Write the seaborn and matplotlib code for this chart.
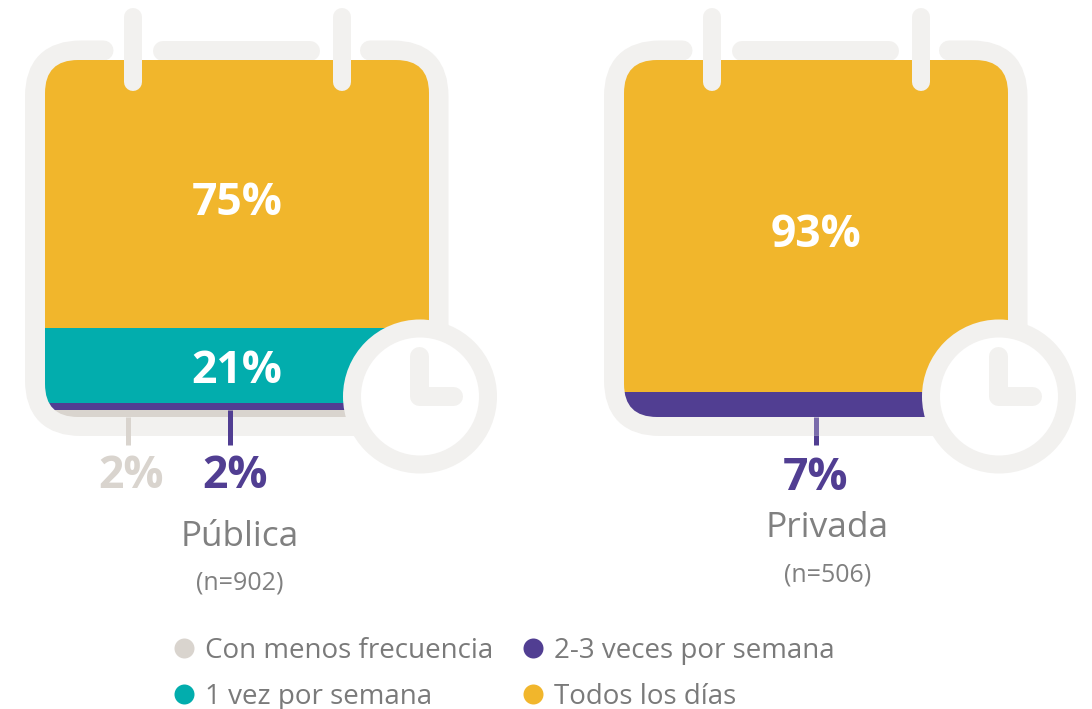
import matplotlib
matplotlib.use('Agg')
import matplotlib.pyplot as plt
import pandas as pd
import seaborn as sns
from matplotlib.lines import Line2D
from matplotlib.patches import Circle, FancyBboxPatch, PathPatch
from matplotlib.path import Path

# === DATA ===
categories = ['Todos los días', '1 vez por semana', '2-3 veces por semana', 'Con menos frecuencia']
publica = [75, 21, 2, 2]
privada = [93, 0, 7, 0]
n_publica = 902
n_privada = 506

colors = {
    'Todos los días': '#f1b62c',
    '1 vez por semana': '#02adad',
    '2-3 veces por semana': '#513e92',
    'Con menos frecuencia': '#d9d4ce',
}
frame_color = '#f2f1ef'
grey_text = '#808080'

W, H = 1092, 709
PX = 0.72  # one pixel in points at dpi 100

sns.set_theme(style='white')
plt.rcParams['font.family'] = ['Open Sans', 'DejaVu Sans']

fig = plt.figure(figsize=(W / 100, H / 100), dpi=100)

# pixel axes: one below the bars for the frame, one above for tabs and clock
ax_bg = fig.add_axes([0, 0, 1, 1], zorder=0)
ax_top = fig.add_axes([0, 0, 1, 1], zorder=2)
for a in (ax_bg, ax_top):
    a.set_xlim(0, W)
    a.set_ylim(H, 0)
    a.axis('off')
    a.patch.set_alpha(0)


def draw_frame(dx):
    x0, x1, y0, y1, r = 35 + dx, 438.5 + dx, 50.5, 426, 46
    verts = [(103.5 + dx, y0), (x0 + r, y0), (x0, y0), (x0, y0 + r), (x0, y1 - r), (x0, y1), (x0 + r, y1),
             (x1 - r, y1), (x1, y1), (x1, y1 - r), (x1, y0 + r), (x1, y0), (x1 - r, y0), (370 + dx, y0)]
    codes = [Path.MOVETO, Path.LINETO, Path.CURVE3, Path.CURVE3, Path.LINETO, Path.CURVE3, Path.CURVE3,
             Path.LINETO, Path.CURVE3, Path.CURVE3, Path.LINETO, Path.CURVE3, Path.CURVE3, Path.LINETO]
    ax_bg.add_patch(PathPatch(Path(verts, codes), fill=False, edgecolor=frame_color, lw=20 * PX, capstyle='round'))
    ax_bg.plot([163 + dx, 310 + dx], [y0, y0], color=frame_color, lw=20 * PX, solid_capstyle='round')


def draw_tabs_clock(dx):
    for x in (133 + dx, 342 + dx):
        ax_top.plot([x, x], [17, 82], color=frame_color, lw=18 * PX, solid_capstyle='round')
    ax_top.add_patch(Circle((420 + dx, 396.5), 68, facecolor='white', edgecolor=frame_color, lw=18 * PX))
    ax_top.plot([419 + dx, 419 + dx, 453 + dx], [356, 396, 396], color=frame_color, lw=19 * PX,
                solid_capstyle='round', solid_joinstyle='round')


def draw_calendar(values, dx):
    draw_frame(dx)
    ax = fig.add_axes([(45 + dx) / W, 1 - 417 / H, 384 / W, 357 / H], zorder=1)
    ax.patch.set_alpha(0)
    df = pd.DataFrame({'grupo': ['g'] * len(categories), 'categoria': categories, 'valor': values})
    clip = FancyBboxPatch((45 + dx, 60), 384, 357, boxstyle='round,pad=0,rounding_size=33',
                          transform=ax_bg.transData)
    bottom = 0
    for _, row in df.iterrows():
        if row['valor'] > 0:
            sns.barplot(data=df[df['categoria'] == row['categoria']], x='grupo', y='valor', ax=ax, width=1,
                        color=colors[row['categoria']], saturation=1, bottom=bottom, errorbar=None, linewidth=0)
            ax.patches[-1].set_clip_path(clip)
            if row['valor'] >= 10:
                offset = -7 if row['valor'] > 50 else -4.5
                ax.annotate(f"{row['valor']}%", xy=(0, bottom + row['valor'] / 2), xytext=(0, offset),
                            textcoords='offset points', ha='center', va='center', color='white',
                            fontsize=32, fontweight='bold')
        bottom += row['valor']
    ax.set_xlim(-0.5, 0.5)
    ax.set_ylim(100, 0)
    ax.axis('off')
    draw_tabs_clock(dx)


draw_calendar(publica, 0)
draw_calendar(privada, 579)

# small segments below the calendars
purple = colors['2-3 veces por semana']
beige = colors['Con menos frecuencia']
ax_top.plot([128, 128], [417, 445], color=beige, lw=5 * PX, solid_capstyle='butt')
ax_top.plot([229.5, 229.5], [410, 445], color=purple, lw=5 * PX, solid_capstyle='butt')
ax_top.plot([815.5, 815.5], [417, 435], color='#7a6cab', lw=5 * PX, solid_capstyle='butt')
ax_top.plot([815.5, 815.5], [435, 445], color=purple, lw=5 * PX, solid_capstyle='butt')

ax_top.text(131, 476, f'{publica[3]}%', color=beige, fontsize=32, fontweight='bold', ha='center', va='center')
ax_top.text(235, 476, f'{publica[2]}%', color=purple, fontsize=32, fontweight='bold', ha='center', va='center')
ax_top.text(815, 478, f'{privada[2]}%', color=purple, fontsize=32, fontweight='bold', ha='center', va='center')

ax_top.text(240, 537, 'Pública', color=grey_text, fontsize=25.3, ha='center', va='center')
ax_top.text(240, 583, f'(n={n_publica})', color=grey_text, fontsize=18, ha='center', va='center')
ax_top.text(827, 528, 'Privada', color=grey_text, fontsize=25.5, ha='center', va='center')
ax_top.text(828, 575, f'(n={n_privada})', color=grey_text, fontsize=18, ha='center', va='center')

# legend, filled column by column
legend_order = ['Con menos frecuencia', '1 vez por semana', '2-3 veces por semana', 'Todos los días']
handles = [Line2D([], [], linestyle='none', marker='o', markersize=20 * PX, markeredgewidth=0,
                  color=colors[c], label=c) for c in legend_order]
fig.legend(handles=handles, ncol=2, frameon=False, fontsize=20, labelcolor='#7a7a7a',
           loc='lower left', bbox_to_anchor=(170 / W, -2 / H), borderpad=0, borderaxespad=0,
           handlelength=1, handletextpad=0.25, columnspacing=0.94, labelspacing=0.655)

fig.savefig('out.png', dpi=100, facecolor='white')
